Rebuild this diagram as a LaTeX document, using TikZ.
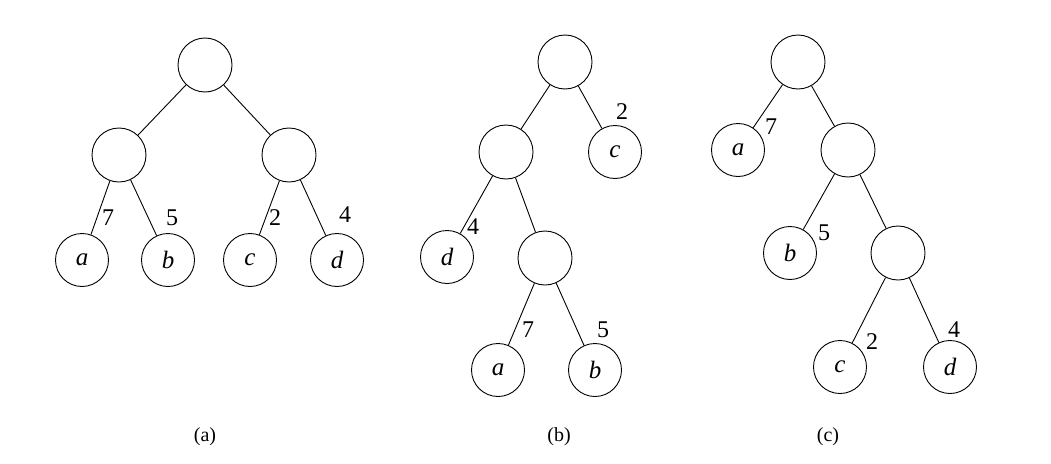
\documentclass[tikz,border=0pt]{standalone}
\usepackage{fontspec}
\setmainfont{Liberation Serif}
\begin{document}
\begin{tikzpicture}[x=1pt,y=-1pt,
 big/.style={circle,draw,line width=0.9pt,minimum size=54pt,inner sep=0pt},
 leaf/.style={circle,draw,line width=0.9pt,minimum size=53pt,inner sep=0pt,font=\fontsize{25}{25}\selectfont\itshape},
 edge/.style={line width=0.9pt},
 lab/.style={font=\fontsize{24}{24}\selectfont},
 captxt/.style={font=\fontsize{20}{20}\selectfont}]
\useasboundingbox (0,0) rectangle (1051,463);
% (a)
\node[big] (ar) at (205,65) {};
\node[big] (al) at (119,155) {};
\node[big] (arr) at (289,155) {};
\node[leaf] (aa) at (82,260) {a};
\node[leaf] (ab) at (168,260) {b};
\node[leaf] (ac) at (250,260) {c};
\node[leaf] (ad) at (337,260) {d};
\draw[edge] (ar)--(al) (ar)--(arr) (al)--(aa) (al)--(ab) (arr)--(ac) (arr)--(ad);
\node[lab] at (108,218) {7};
\node[lab] at (172,218) {5};
\node[lab] at (275,218) {2};
\node[lab] at (345,215) {4};
\node[captxt] at (205,437) {(a)};
% (b)
\node[big] (br) at (565,62) {};
\node[big] (bl) at (506,152) {};
\node[leaf] (bc) at (615,152) {c};
\node[leaf] (bd) at (447,257) {d};
\node[big] (bm) at (545,258) {};
\node[leaf] (ba) at (498,370) {a};
\node[leaf] (bb) at (595,370) {b};
\draw[edge] (br)--(bl) (br)--(bc) (bl)--(bd) (bl)--(bm) (bm)--(ba) (bm)--(bb);
\node[lab] at (622,112) {2};
\node[lab] at (473,227) {4};
\node[lab] at (528,330) {7};
\node[lab] at (603,330) {5};
\node[captxt] at (559,437) {(b)};
% (c)
\node[big] (cr) at (798,62) {};
\node[leaf] (ca) at (738,150) {a};
\node[big] (cm) at (848,150) {};
\node[leaf] (cb) at (790,253) {b};
\node[big] (cn) at (898,253) {};
\node[leaf] (cc) at (840,367) {c};
\node[leaf] (cd) at (950,367) {d};
\draw[edge] (cr)--(ca) (cr)--(cm) (cm)--(cb) (cm)--(cn) (cn)--(cc) (cn)--(cd);
\node[lab] at (771,127) {7};
\node[lab] at (824,233) {5};
\node[lab] at (872,342) {2};
\node[lab] at (954,330) {4};
\node[captxt] at (828,437) {(c)};
\end{tikzpicture}
\end{document}
